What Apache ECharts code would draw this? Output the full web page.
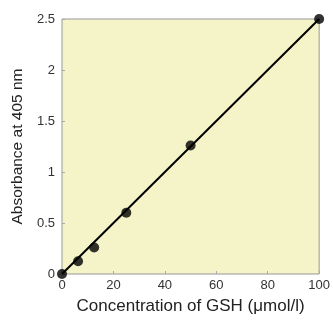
<!DOCTYPE html>
<html><head><meta charset="utf-8">
<script src="https://cdn.jsdelivr.net/npm/echarts@6/dist/echarts.min.js"></script>
<style>html,body{margin:0;padding:0;background:#fff}#c{width:333px;height:320px}</style>
</head><body><div id="c"></div>
<script>
const concentrations = [0, 6.25, 12.5, 25, 50, 100];
const absorbance = [0, 0.125, 0.26, 0.6, 1.26, 2.5];
const fitX = [0, 100];
const fitY = [0, 2.5];
const xTicks = [0, 20, 40, 60, 80, 100];
const yTicks = [0, 0.5, 1, 1.5, 2, 2.5];

const chart = echarts.init(document.getElementById('c'));
const font = 'Liberation Sans, Arial, sans-serif';
chart.setOption({
  animation: false,
  grid: {left: 62, right: 11, top: 19, bottom: 44, show: true, backgroundColor: '#f4f4c8', borderColor: '#999', borderWidth: 1},
  xAxis: {
    type: 'value', min: xTicks[0], max: xTicks[xTicks.length-1], interval: 20,
    name: 'Concentration of GSH (\u03bcmol/l)', nameLocation: 'middle', nameGap: 24,
    nameTextStyle: {fontFamily: font, fontSize: 17, color: '#222'},
    axisLine: {show: false},
    axisTick: {show: true, inside: true, length: 3, lineStyle: {color: '#aaa'}},
    axisLabel: {fontFamily: font, fontSize: 13, color: '#333', margin: 5},
    splitLine: {show: false}
  },
  yAxis: {
    type: 'value', min: yTicks[0], max: yTicks[yTicks.length-1], interval: 0.5,
    name: 'Absorbance at 405 nm', nameLocation: 'middle', nameGap: 34,
    nameTextStyle: {fontFamily: font, fontSize: 15.5, color: '#222'},
    axisLine: {show: false},
    axisTick: {show: true, inside: true, length: 3, lineStyle: {color: '#aaa'}},
    axisLabel: {fontFamily: font, fontSize: 13, color: '#333', margin: 7},
    splitLine: {show: false}
  },
  series: [
    {type: 'line', data: fitX.map((x, i) => [x, fitY[i]]), symbol: 'none',
     lineStyle: {color: '#000', width: 2}, z: 2},
    {type: 'scatter', data: concentrations.map((x, i) => [x, absorbance[i]]),
     symbolSize: 10, itemStyle: {color: '#000'}, z: 3}
  ]
});
</script></body></html>
